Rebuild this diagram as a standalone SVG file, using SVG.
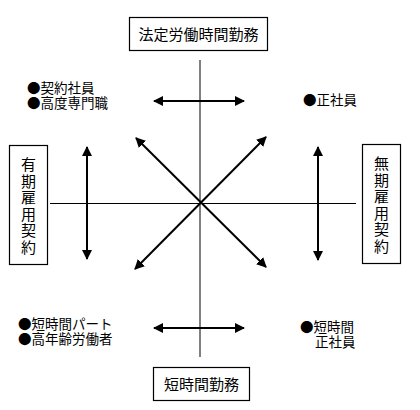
<svg xmlns="http://www.w3.org/2000/svg" width="420" height="410" viewBox="0 0 420 410">
<defs>
<marker id="ah" viewBox="0 0 10 10" refX="9" refY="5" markerWidth="5" markerHeight="5" orient="auto-start-reverse" markerUnits="strokeWidth">
<path d="M0,0 L10,5 L0,10 z" fill="#000"/>
</marker>
<style>
text{font-family:"Noto Sans CJK JP","Liberation Sans",sans-serif;fill:#000}
.lbl{font-size:13.5px}
.box{fill:#fff;stroke:#000;stroke-width:1.2}
.bt{font-size:15px}
.arr{stroke:#000;stroke-width:2;fill:none;marker-start:url(#ah);marker-end:url(#ah)}
.axis{stroke:#000;stroke-width:1;fill:none}
</style>
</defs>
<rect width="420" height="410" fill="#fff"/>
<g id="connectors">
<line class="axis" x1="200" y1="60" x2="200" y2="357" stroke="#333"/>
<line class="axis" x1="50" y1="203.5" x2="356" y2="203.5"/>
<line class="arr" x1="154" y1="101" x2="244" y2="101"/>
<line class="arr" x1="154" y1="328" x2="244" y2="328"/>
<line class="arr" x1="87" y1="147" x2="87" y2="259"/>
<line class="arr" x1="318" y1="147" x2="318" y2="260"/>
<line class="arr" x1="136" y1="138" x2="266" y2="267"/>
<line class="arr" x1="266" y1="137" x2="135" y2="269"/>
</g>
<g id="top">
<rect class="box" x="129.5" y="17.5" width="138" height="33"/>
<text class="bt" x="198.5" y="39.5" text-anchor="middle">法定労働時間勤務</text>
</g>
<g id="bottom">
<rect class="box" x="153.5" y="367.5" width="96" height="33"/>
<text class="bt" x="201.5" y="389.5" text-anchor="middle">短時間勤務</text>
</g>
<g id="left">
<rect class="box" x="9.5" y="145.5" width="38" height="119"/>
<text class="bt" x="28.5" text-anchor="middle"><tspan x="28.5" y="170">有</tspan><tspan x="28.5" y="186.5">期</tspan><tspan x="28.5" y="203">雇</tspan><tspan x="28.5" y="219.5">用</tspan><tspan x="28.5" y="236">契</tspan><tspan x="28.5" y="252.5">約</tspan></text>
</g>
<g id="right">
<rect class="box" x="362.5" y="144.5" width="38" height="119"/>
<text class="bt" x="381.5" text-anchor="middle"><tspan x="381.5" y="169">無</tspan><tspan x="381.5" y="185.5">期</tspan><tspan x="381.5" y="202">雇</tspan><tspan x="381.5" y="218.5">用</tspan><tspan x="381.5" y="235">契</tspan><tspan x="381.5" y="251.5">約</tspan></text>
</g>
<g id="q-topleft">
<text class="lbl" x="27" y="93">●契約社員</text>
<text class="lbl" x="27" y="108">●高度専門職</text>
</g>
<g id="q-topright">
<text class="lbl" x="303" y="105">●正社員</text>
</g>
<g id="q-bottomleft">
<text class="lbl" x="18" y="329">●短時間パート</text>
<text class="lbl" x="18" y="344">●高年齢労働者</text>
</g>
<g id="q-bottomright">
<text class="lbl" x="300" y="332">●短時間</text>
<text class="lbl" x="315" y="347">正社員</text>
</g>
</svg>
